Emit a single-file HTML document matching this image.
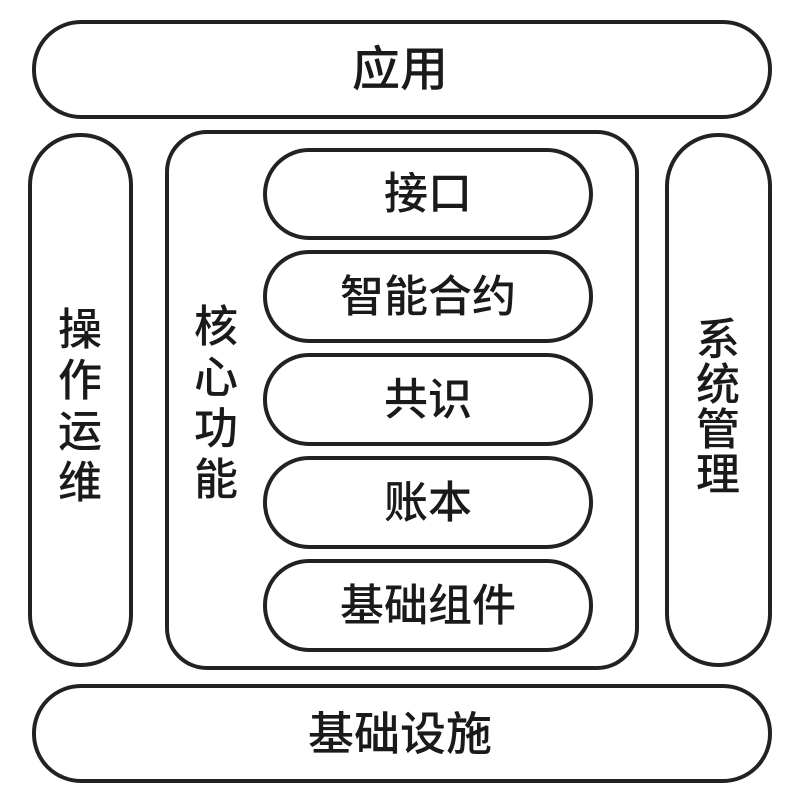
<!DOCTYPE html>
<html><head><meta charset="utf-8"><style>
html,body{margin:0;padding:0;background:#fff;}
svg{display:block}
text{font-family:"Liberation Sans","Noto Sans CJK SC",sans-serif;font-weight:500;fill:#1a1a1a;text-anchor:middle;dominant-baseline:central}
</style></head><body>
<svg width="791" height="795" viewBox="0 0 791 795">
<g fill="none" stroke="#222" stroke-width="4">
<rect x="34" y="22" width="736" height="95" rx="47"/>
<rect x="30" y="135" width="101" height="530" rx="50"/>
<rect x="167" y="132" width="470" height="536" rx="40"/>
<rect x="667" y="135" width="103" height="530" rx="51"/>
<rect x="34" y="686" width="736" height="95" rx="47"/>
<rect x="265" y="150" width="326" height="88" rx="44"/>
<rect x="265" y="252" width="326" height="89" rx="44"/>
<rect x="265" y="355" width="326" height="89" rx="44"/>
<rect x="265" y="458" width="326" height="89" rx="44"/>
<rect x="265" y="561" width="326" height="89" rx="44"/>
</g>
<text x="400" y="70" font-size="48">应用</text>
<text x="400" y="734" font-size="46">基础设施</text>
<text x="428" y="194" font-size="44">接口</text>
<text x="428" y="297" font-size="44">智能合约</text>
<text x="428" y="400" font-size="44">共识</text>
<text x="428" y="503" font-size="44">账本</text>
<text x="428" y="606" font-size="44">基础组件</text>
<g font-size="44">
<text x="80" y="330">操</text><text x="80" y="381">作</text><text x="80" y="432">运</text><text x="80" y="483">维</text>
<text x="216" y="327">核</text><text x="216" y="378">心</text><text x="216" y="429">功</text><text x="216" y="480">能</text>
<text x="718" y="340">系</text><text x="718" y="385">统</text><text x="718" y="430">管</text><text x="718" y="475">理</text>
</g>
</svg>
</body></html>
